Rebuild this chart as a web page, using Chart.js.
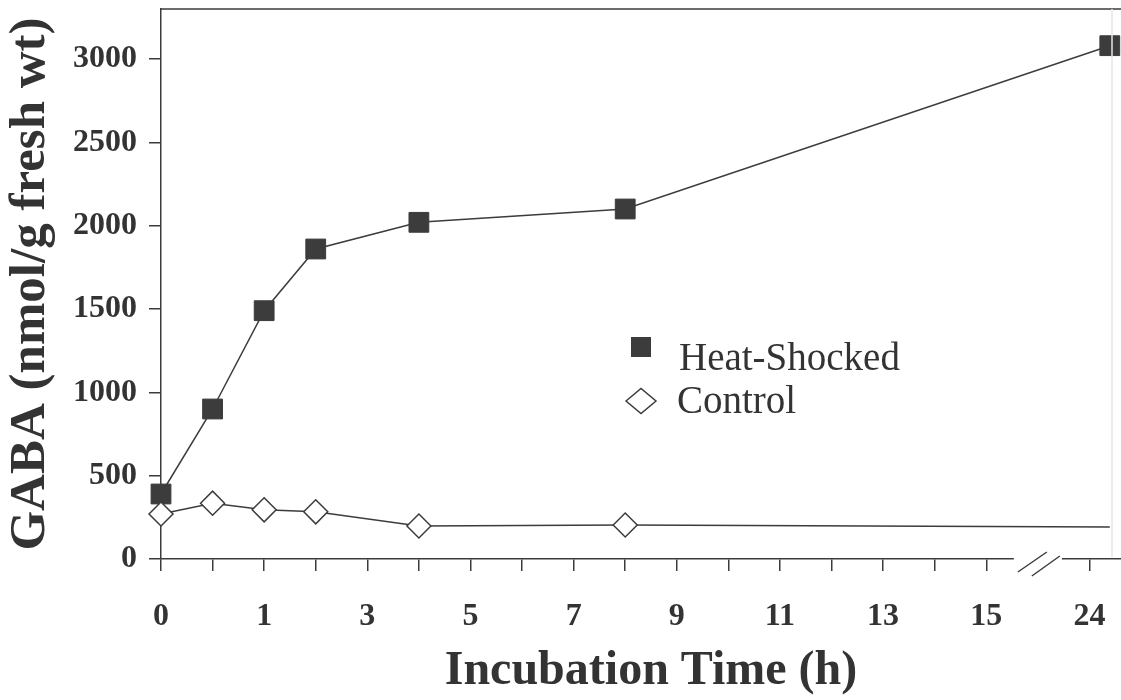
<!DOCTYPE html>
<html>
<head>
<meta charset="utf-8">
<script src="https://cdn.jsdelivr.net/npm/chart.js@4.4.0/dist/chart.umd.min.js"></script>
<style>
  html, body { margin: 0; padding: 0; background: #fff; overflow: hidden; }
</style>
</head>
<body>
<canvas id="gabaChart" width="1145" height="700"></canvas>
<script>
// Data

const hours = [0, 0.5, 1, 2, 4, 8, 24];
const heatShocked = [390, 900, 1490, 1860, 2020, 2100, 3080];
const control = [270, 335, 295, 283, 198, 204, 192];
const xTickLabels = ['0', '1', '3', '5', '7', '9', '11', '13', '15', '24'];
const yTicks = [0, 500, 1000, 1500, 2000, 2500, 3000];

// time axis is uneven: half hours up to 1 h, then hours up to 15 h, then a break to 24 h
function axisPos(h) {
  if (h <= 1) return h * 2;
  if (h <= 15) return h + 1;
  return 17 + (h - 15) * 0.155;
}

const heatPoints = hours.map((h, i) => ({ x: axisPos(h), y: heatShocked[i] }));
const controlPoints = hours.map((h, i) => ({ x: axisPos(h), y: control[i] }));

const ink = '#3c3c3c';
const serif = 'Liberation Serif';

// keep the plot area where the axes are, not where the tick labels want it
function noLabelPadding(scale) {
  scale.paddingTop = 0;
  scale.paddingBottom = 0;
  scale.paddingLeft = 0;
  scale.paddingRight = 0;
}



// Frame, axis break and legend

const frameAndLegend = {
  id: 'frameAndLegend',
  afterDraw(chart) {
    const { ctx, chartArea, scales: { x } } = chart;
    ctx.save();
    ctx.strokeStyle = ink;
    ctx.lineWidth = 1.5;

    // top border and x axis run off to the right edge
    ctx.beginPath();
    ctx.moveTo(chartArea.left, chartArea.top);
    ctx.lineTo(chart.width, chartArea.top);
    ctx.moveTo(chartArea.right, chartArea.bottom);
    ctx.lineTo(chart.width, chartArea.bottom);
    ctx.stroke();

    // faint right border
    ctx.strokeStyle = '#e6e6e6';
    ctx.beginPath();
    ctx.moveTo(1112, chartArea.top);
    ctx.lineTo(1112, chartArea.bottom - 2);
    ctx.stroke();

    // break in the x axis
    const c = x.getPixelForValue(17);
    const b = chartArea.bottom;
    ctx.fillStyle = '#fff';
    ctx.fillRect(c - 24, b - 4, 48, 8);
    ctx.strokeStyle = ink;
    ctx.beginPath();
    ctx.moveTo(c - 20, b + 13);
    ctx.lineTo(c + 9, b - 7);
    ctx.moveTo(c - 6, b + 17);
    ctx.lineTo(c + 22, b - 3);
    ctx.stroke();

    // legend
    ctx.fillStyle = ink;
    ctx.fillRect(631, 337, 20, 20);
    ctx.beginPath();
    ctx.moveTo(626, 401);
    ctx.lineTo(641, 388.5);
    ctx.lineTo(656, 401);
    ctx.lineTo(641, 413.5);
    ctx.closePath();
    ctx.fillStyle = '#fff';
    ctx.fill();
    ctx.stroke();

    ctx.fillStyle = '#333';
    ctx.font = '39px "' + serif + '"';
    ctx.textBaseline = 'alphabetic';
    ctx.textAlign = 'left';
    ctx.fillText('Heat-Shocked', 679, 370);
    ctx.fillText('Control', 677, 413);
    ctx.restore();
  }
};



// Line Chart

const ctx = document.getElementById('gabaChart').getContext('2d');

const gabaChart = new Chart(ctx, {
  type: 'line',
  data: {
    datasets: [
      {
        label: 'Control',
        data: controlPoints,
        borderColor: ink,
        borderWidth: 1.5,
        pointStyle: 'rectRot',
        pointRadius: (c) => (c.dataIndex === hours.length - 1 ? 0 : 12),
        pointBackgroundColor: '#fff',
        pointBorderColor: ink,
        pointBorderWidth: 1.5,
        tension: 0,
        clip: false
      },
      {
        label: 'Heat-Shocked',
        data: heatPoints,
        borderColor: ink,
        borderWidth: 1.5,
        pointStyle: 'rect',
        pointRadius: 14,
        pointBackgroundColor: ink,
        pointBorderColor: ink,
        pointBorderWidth: 1,
        tension: 0,
        clip: false
      }
    ]
  },
  options: {
    responsive: false,
    animation: false,
    layout: { autoPadding: false, padding: { top: 9, right: 4, left: 0, bottom: 0 } },
    plugins: {
      legend: { display: false },
      tooltip: { enabled: false }
    },
    scales: {
      x: {
        type: 'linear',
        min: 0,
        max: 19,
        afterBuildTicks: (scale) => {
          scale.ticks = scale.ticks.filter(t => Math.round(t.value) !== 17 && t.value < 18.5);
        },
        afterFit: (scale) => {
          scale.height = 141;
          noLabelPadding(scale);
        },
        ticks: {
          stepSize: 1,
          autoSkip: false,
          maxRotation: 0,
          padding: 27,
          color: '#333',
          font: { family: serif, weight: 'bold', size: 32 },
          callback: (v) => {
            const k = Math.round(v);
            return k % 2 === 0 ? xTickLabels[k / 2] : '';
          }
        },
        grid: { drawOnChartArea: false, tickLength: 12, color: ink, lineWidth: 1.5 },
        border: { display: true, color: ink, width: 1.5 },
        title: {
          display: true,
          text: 'Incubation Time (h)',
          color: '#333',
          padding: 0,
          font: { family: serif, weight: 'bold', size: 48 }
        }
      },
      y: {
        min: 0,
        max: 3300,
        afterBuildTicks: (scale) => {
          scale.ticks = yTicks.map(v => ({ value: v }));
        },
        afterFit: (scale) => {
          scale.width = 161;
          noLabelPadding(scale);
        },
        ticks: {
          padding: 12,
          color: '#333',
          font: { family: serif, weight: 'bold', size: 32 },
          callback: (v) => String(v)
        },
        grid: { drawOnChartArea: false, tickLength: 12, color: ink, lineWidth: 1.5 },
        border: { display: true, color: ink, width: 1.5 },
        title: {
          display: true,
          text: 'GABA (nmol/g fresh wt)',
          color: '#333',
          padding: 0,
          font: { family: serif, weight: 'bold', size: 51 }
        }
      }
    }
  },
  plugins: [frameAndLegend]
});
</script>
</body>
</html>
